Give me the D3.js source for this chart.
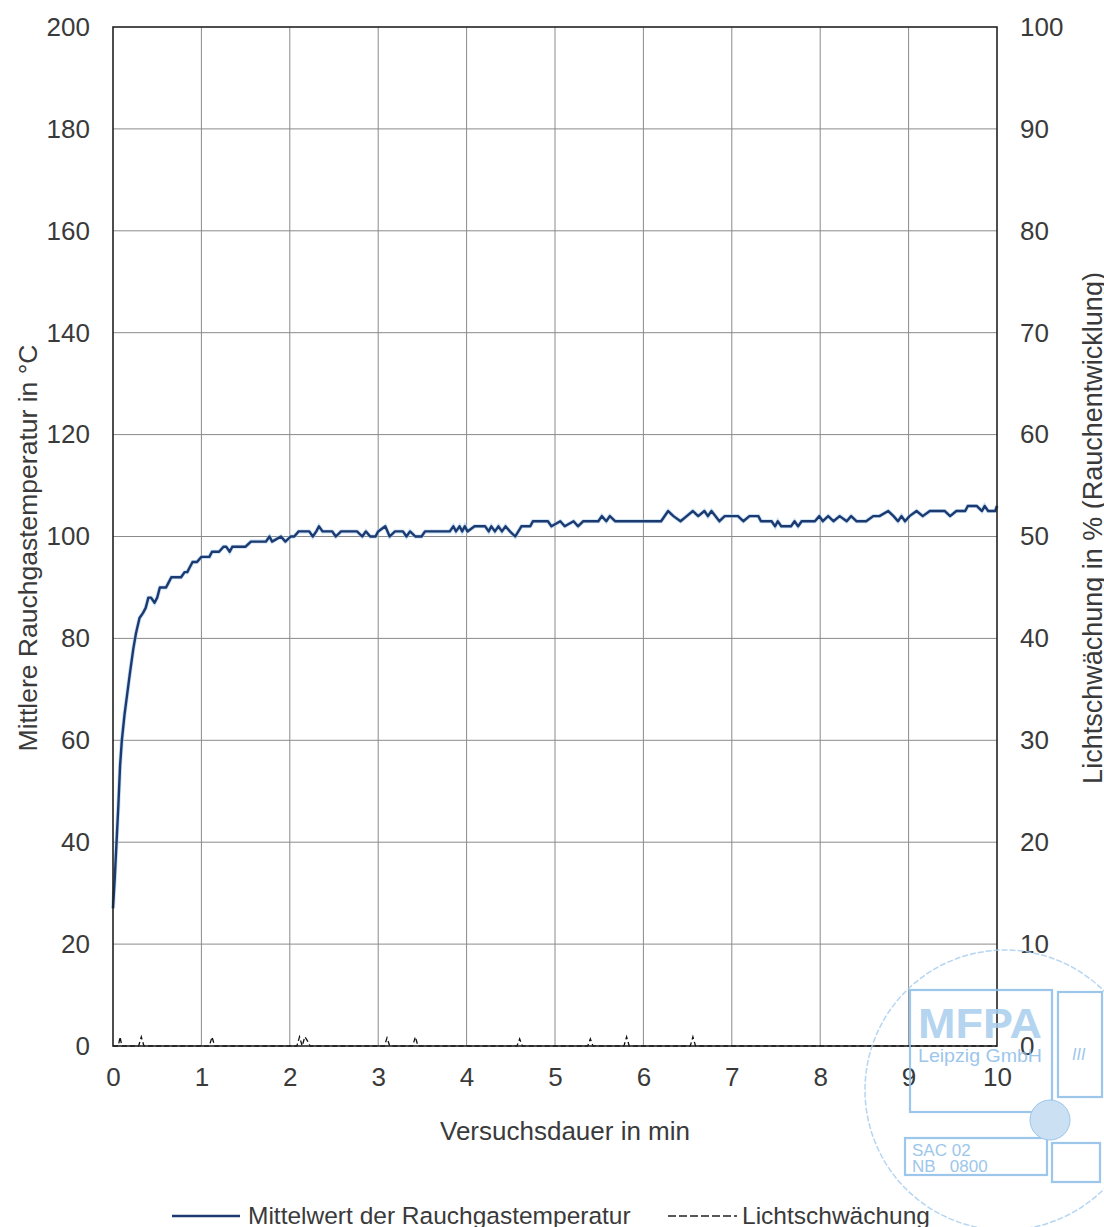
<!DOCTYPE html>
<html>
<head>
<meta charset="utf-8">
<script src="https://cdn.jsdelivr.net/npm/d3@7"></script>
<style>
  body { margin: 0; background: #fff; }
  text { font-family: "Liberation Sans", Arial, sans-serif; fill: #3a3a3a; }
</style>
</head>
<body>
<script>
// temperature curve (min, °C)
var tempT = [0, 0.02, 0.04, 0.06, 0.08, 0.10, 0.13, 0.16, 0.19, 0.23, 0.26, 0.30, 0.34, 0.37, 0.40, 0.43, 0.47, 0.50,
  0.53, 0.56, 0.60, 0.63, 0.66, 0.72, 0.77, 0.81, 0.84, 0.87, 0.90, 0.95, 1.00, 1.09, 1.12, 1.15, 1.20, 1.25, 1.28,
  1.32, 1.35, 1.50, 1.56, 1.73, 1.77, 1.80, 1.90, 1.95, 2.01, 2.05, 2.10, 2.18, 2.22, 2.26, 2.30, 2.33, 2.37, 2.48,
  2.52, 2.58, 2.76, 2.82, 2.86, 2.91, 2.97, 3.00, 3.08, 3.13, 3.19, 3.28, 3.32, 3.36, 3.42, 3.49, 3.53, 3.81, 3.85,
  3.88, 3.92, 3.95, 3.98, 4.01, 4.09, 4.21, 4.25, 4.28, 4.32, 4.36, 4.40, 4.44, 4.49, 4.55, 4.62, 4.72, 4.75, 4.92,
  4.96, 5.06, 5.11, 5.21, 5.26, 5.32, 5.49, 5.53, 5.58, 5.62, 5.68, 6.20, 6.28, 6.34, 6.42, 6.49, 6.56, 6.62, 6.69,
  6.73, 6.77, 6.86, 6.92, 7.07, 7.13, 7.20, 7.30, 7.33, 7.45, 7.49, 7.52, 7.56, 7.67, 7.71, 7.75, 7.79, 7.94, 7.99,
  8.03, 8.09, 8.15, 8.22, 8.30, 8.35, 8.41, 8.52, 8.60, 8.67, 8.77, 8.83, 8.88, 8.92, 8.96, 9.01, 9.09, 9.16, 9.24,
  9.41, 9.47, 9.54, 9.64, 9.67, 9.77, 9.83, 9.86, 9.90, 9.98, 10.0];
var tempV = [27, 33, 40, 47, 55, 60, 65, 69, 73, 78, 81, 84, 85, 86, 88, 88, 87, 88,
  90, 90, 90, 91, 92, 92, 92, 93, 93, 94, 95, 95, 96, 96, 97, 97, 97, 98, 98,
  97, 98, 98, 99, 99, 100, 99, 100, 99, 100, 100, 101, 101, 101, 100, 101, 102, 101, 101,
  100, 101, 101, 100, 101, 100, 100, 101, 102, 100, 101, 101, 100, 101, 100, 100, 101, 101, 102,
  101, 102, 101, 102, 101, 102, 102, 101, 102, 101, 102, 101, 102, 101, 100, 102, 102, 103, 103,
  102, 103, 102, 103, 102, 103, 103, 104, 103, 104, 103, 103, 105, 104, 103, 104, 105, 104, 105,
  104, 105, 103, 104, 104, 103, 104, 104, 103, 103, 102, 103, 102, 102, 103, 102, 103, 103, 104,
  103, 104, 103, 104, 103, 104, 103, 103, 104, 104, 105, 104, 103, 104, 103, 104, 105, 104, 105,
  105, 104, 105, 105, 106, 106, 105, 106, 105, 105, 106];

// light attenuation (min, %)
var lightT = [0, 0.06, 0.08, 0.10, 0.29, 0.32, 0.35, 1.09, 1.12, 1.15, 2.08, 2.11, 2.14, 2.17, 2.20, 2.23,
  3.07, 3.10, 3.13, 3.39, 3.42, 3.45, 4.57, 4.60, 4.63, 5.37, 5.40, 5.43, 5.78, 5.81, 5.84, 6.53, 6.56, 6.59, 10];
var lightV = [0, 0, 0.9, 0, 0, 0.9, 0, 0, 0.9, 0, 0, 0.9, 0, 0.9, 0.5, 0,
  0, 0.8, 0, 0, 0.9, 0, 0, 0.7, 0, 0, 0.7, 0, 0, 0.9, 0, 0, 0.9, 0, 0];

var xTicks = [0, 1, 2, 3, 4, 5, 6, 7, 8, 9, 10];
var yLeftTicks = [0, 20, 40, 60, 80, 100, 120, 140, 160, 180, 200];
var yRightTicks = [0, 10, 20, 30, 40, 50, 60, 70, 80, 90, 100];

var W = 1104, H = 1227;
var pL = 113, pR = 997, pT = 27, pB = 1046;  // plot box

var svg = d3.select('body').append('svg').attr('width', W).attr('height', H)

var x = d3.scaleLinear().domain([0, 10]).range([pL, pR])
var yL = d3.scaleLinear().domain([0, 200]).range([pB, pT])
var yR = d3.scaleLinear().domain([0, 100]).range([pB, pT])

// grid
svg.append('g').selectAll('line')
  .data(xTicks.slice(1, -1))
  .enter().append('line')
    .attr('x1', d => x(d)).attr('x2', d => x(d))
    .attr('y1', pT).attr('y2', pB)
    .attr('stroke', '#8a8a8a').attr('stroke-width', 1)

svg.append('g').selectAll('line')
  .data(yLeftTicks.slice(1, -1))
  .enter().append('line')
    .attr('x1', pL).attr('x2', pR)
    .attr('y1', d => yL(d)).attr('y2', d => yL(d))
    .attr('stroke', '#8a8a8a').attr('stroke-width', 1)

// axes: labels only, no tick marks
var axL = d3.axisLeft(yL).tickValues(yLeftTicks).tickSize(0).tickPadding(23)
var axR = d3.axisRight(yR).tickValues(yRightTicks).tickSize(0).tickPadding(23)
var axB = d3.axisBottom(x).tickValues(xTicks).tickSize(0).tickPadding(22)

function styleAxis(g) {
  g.select('.domain').remove()
  g.selectAll('text').attr('font-size', 26).attr('font-family', '"Liberation Sans", Arial, sans-serif').attr('fill', '#3a3a3a')
}
svg.append('g').attr('transform', `translate(${pL},0)`).call(axL).call(styleAxis)
svg.append('g').attr('transform', `translate(${pR},0)`).call(axR).call(styleAxis)
svg.append('g').attr('transform', `translate(0,${pB})`).call(axB).call(styleAxis)

// light attenuation, dashed
var lightLine = d3.line()
  .x((d, i) => x(lightT[i]))
  .y((d, i) => yR(lightV[i]))
svg.append('path')
  .attr('fill', 'none')
  .attr('stroke', '#111')
  .attr('stroke-width', 1.3)
  .attr('stroke-dasharray', '5,3')
  .attr('d', lightLine(lightT))

// temperature
var tempLine = d3.line()
  .x((d, i) => x(tempT[i]))
  .y((d, i) => yL(tempV[i]))
svg.append('path')
  .attr('fill', 'none')
  .attr('stroke', '#9cc8ee')
  .attr('stroke-width', 4)
  .attr('opacity', 0.6)
  .attr('d', tempLine(tempT))
svg.append('path')
  .attr('fill', 'none')
  .attr('stroke', '#1c3a70')
  .attr('stroke-width', 2.4)
  .attr('stroke-linejoin', 'round')
  .attr('d', tempLine(tempT))

// frame
svg.append('rect')
  .attr('x', pL).attr('y', pT)
  .attr('width', pR - pL).attr('height', pB - pT)
  .attr('fill', 'none').attr('stroke', '#222').attr('stroke-width', 1.6)

// axis titles
svg.append('text')
  .attr('x', 565).attr('y', 1140)
  .attr('text-anchor', 'middle').attr('font-size', 26)
  .text('Versuchsdauer in min')

svg.append('text')
  .attr('transform', 'translate(37,548) rotate(-90)')
  .attr('text-anchor', 'middle').attr('font-size', 26.5)
  .text('Mittlere Rauchgastemperatur in °C')

svg.append('text')
  .attr('transform', 'translate(1102,528) rotate(-90)')
  .attr('text-anchor', 'middle').attr('font-size', 27)
  .text('Lichtschwächung in % (Rauchentwicklung)')

// legend
var leg = svg.append('g')
leg.append('line').attr('x1', 172).attr('x2', 240).attr('y1', 1216).attr('y2', 1216)
  .attr('stroke', '#1c3a70').attr('stroke-width', 2.4)
leg.append('text').attr('x', 248).attr('y', 1224).attr('font-size', 24.5).text('Mittelwert der Rauchgastemperatur')
leg.append('line').attr('x1', 668).attr('x2', 737).attr('y1', 1216).attr('y2', 1216)
  .attr('stroke', '#222').attr('stroke-width', 1.6).attr('stroke-dasharray', '8,3')
leg.append('text').attr('x', 742).attr('y', 1224).attr('font-size', 24.5).text('Lichtschwächung')

// the blue stamp over the lower right corner
var stampC = '#8dbde8'
var st = svg.append('g').attr('opacity', 0.85)
st.append('circle').attr('cx', 1005).attr('cy', 1090).attr('r', 140)
  .attr('fill', 'none').attr('stroke', '#a9cff0').attr('stroke-width', 1.5).attr('stroke-dasharray', '6,2')
var boxes = [[910, 990, 142, 122], [1058, 992, 44, 105], [905, 1138, 142, 37], [1052, 1143, 48, 39]]
st.selectAll('rect').data(boxes).enter().append('rect')
  .attr('x', d => d[0]).attr('y', d => d[1]).attr('width', d => d[2]).attr('height', d => d[3])
  .attr('fill', 'none').attr('stroke', stampC).attr('stroke-width', 2.2)
st.append('circle').attr('cx', 1050).attr('cy', 1120).attr('r', 20)
  .attr('fill', '#c3dcf2').attr('stroke', stampC).attr('stroke-width', 1)
st.append('text').attr('x', 980).attr('y', 1038).attr('text-anchor', 'middle')
  .attr('font-size', 42).attr('font-weight', 'bold').attr('textLength', 124).attr('lengthAdjust', 'spacingAndGlyphs')
  .style('fill', '#a8cdee').text('MFPA')
st.append('text').attr('x', 918).attr('y', 1062).attr('font-size', 19)
  .attr('textLength', 124).attr('lengthAdjust', 'spacingAndGlyphs')
  .style('fill', stampC).text('Leipzig GmbH')
st.append('text').attr('x', 1072).attr('y', 1060).attr('font-size', 16).attr('font-style', 'italic')
  .style('fill', stampC).text('III')
st.append('text').attr('x', 912).attr('y', 1156).attr('font-size', 17).style('fill', stampC).text('SAC 02')
st.append('text').attr('x', 912).attr('y', 1172).attr('font-size', 17).style('fill', stampC).text('NB\u00a0\u00a0\u00a00800')
</script>
</body>
</html>
